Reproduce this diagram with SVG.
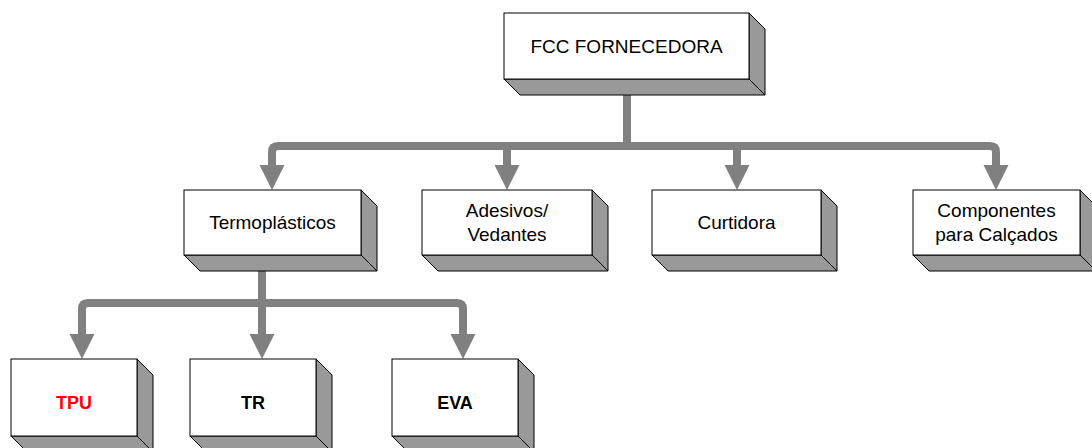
<svg xmlns="http://www.w3.org/2000/svg" width="1092" height="448" viewBox="0 0 1092 448">
  <style>
    .front { fill: #ffffff; stroke: #000000; stroke-width: 1; }
    .shade { fill: #999999; stroke: #000000; stroke-width: 1; stroke-linejoin: round; }
    .wire { fill: none; stroke: #808080; stroke-width: 8; stroke-linejoin: round; }
    .head { fill: #808080; }
    .lbl { font-family: "Liberation Sans", Arial, sans-serif; font-size: 19px; fill: #000000; text-anchor: middle; }
    .bold { font-weight: bold; font-size: 18px; }
    .red { fill: #ff0000; }
  </style>

  <!-- connectors -->
  <g id="connectors">
    <!-- upper level -->
    <path class="wire" d="M627,95 V146"/>
    <path class="wire" d="M272,166 V152 Q272,146 278,146 H990 Q996,146 996,152 V166"/>
    <path class="wire" d="M507,146 V166"/>
    <path class="wire" d="M737,146 V166"/>
    <polygon class="head" points="259.5,165 284.5,165 272,190"/>
    <polygon class="head" points="494.5,165 519.5,165 507,190"/>
    <polygon class="head" points="724.5,165 749.5,165 737,190"/>
    <polygon class="head" points="983.5,165 1008.5,165 996,190"/>
    <!-- lower level -->
    <path class="wire" d="M262,271 V303"/>
    <path class="wire" d="M82,335 V309 Q82,303 88,303 H457 Q463,303 463,309 V335"/>
    <path class="wire" d="M262,303 V335"/>
    <polygon class="head" points="69.5,334 94.5,334 82,359"/>
    <polygon class="head" points="249.5,334 274.5,334 262,359"/>
    <polygon class="head" points="450.5,334 475.5,334 463,359"/>
  </g>

  <!-- root node -->
  <g id="fcc">
    <polygon class="shade" points="749,13 765,29 765,95 749,79"/>
    <polygon class="shade" points="504,79 749,79 765,95 520,95"/>
    <rect class="front" x="504" y="13" width="245" height="66"/>
    <text class="lbl" x="626.5" y="53">FCC FORNECEDORA</text>
  </g>

  <g id="termoplasticos">
    <polygon class="shade" points="361,190 377,206 377,271 361,255"/>
    <polygon class="shade" points="184,255 361,255 377,271 200,271"/>
    <rect class="front" x="184" y="190" width="177" height="65"/>
    <text class="lbl" x="272.5" y="229">Termoplásticos</text>
  </g>

  <g id="adesivos">
    <polygon class="shade" points="592,190 608,206 608,271 592,255"/>
    <polygon class="shade" points="422,255 592,255 608,271 438,271"/>
    <rect class="front" x="422" y="190" width="170" height="65"/>
    <text class="lbl" x="507" y="217">Adesivos/</text>
    <text class="lbl" x="507" y="241">Vedantes</text>
  </g>

  <g id="curtidora">
    <polygon class="shade" points="821,190 837,206 837,271 821,255"/>
    <polygon class="shade" points="652,255 821,255 837,271 668,271"/>
    <rect class="front" x="652" y="190" width="169" height="65"/>
    <text class="lbl" x="736.5" y="229">Curtidora</text>
  </g>

  <g id="componentes">
    <polygon class="shade" points="1080,190 1096,206 1096,271 1080,255"/>
    <polygon class="shade" points="913,255 1080,255 1096,271 929,271"/>
    <rect class="front" x="913" y="190" width="167" height="65"/>
    <text class="lbl" x="996.5" y="217">Componentes</text>
    <text class="lbl" x="996.5" y="241">para Calçados</text>
  </g>

  <g id="tpu">
    <polygon class="shade" points="137,359 153,375 153,452 137,436"/>
    <polygon class="shade" points="11,436 137,436 153,452 27,452"/>
    <rect class="front" x="11" y="359" width="126" height="77"/>
    <text class="lbl bold red" x="74" y="409">TPU</text>
  </g>

  <g id="tr">
    <polygon class="shade" points="316,359 332,375 332,452 316,436"/>
    <polygon class="shade" points="190,436 316,436 332,452 206,452"/>
    <rect class="front" x="190" y="359" width="126" height="77"/>
    <text class="lbl bold" x="253" y="409">TR</text>
  </g>

  <g id="eva">
    <polygon class="shade" points="518,359 534,375 534,452 518,436"/>
    <polygon class="shade" points="392,436 518,436 534,452 408,452"/>
    <rect class="front" x="392" y="359" width="126" height="77"/>
    <text class="lbl bold" x="455" y="409">EVA</text>
  </g>
</svg>
